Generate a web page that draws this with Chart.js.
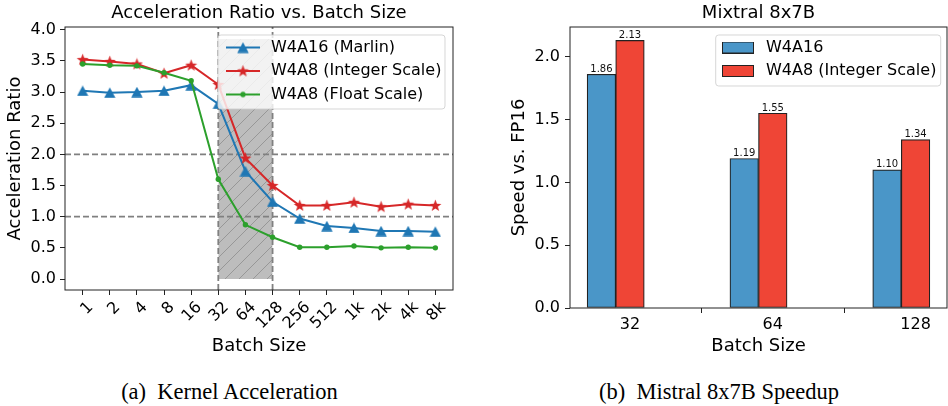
<!DOCTYPE html>
<html><head><meta charset="utf-8">
<script src="https://cdn.jsdelivr.net/npm/chart.js@4.4.1/dist/chart.umd.min.js"></script>
<style>
html,body{margin:0;padding:0;background:#fff;width:948px;height:406px;overflow:hidden;}
#pa{position:absolute;left:0;top:0;width:470px;height:362px;}
#pb{position:absolute;left:478px;top:0;width:470px;height:362px;}
.cap{position:absolute;top:381px;font-family:'Liberation Serif','Times New Roman',serif;font-size:22.5px;line-height:22px;color:#000;white-space:pre;text-align:center;}
</style></head><body>
<div id="pa"><canvas id="ca"></canvas></div>
<div id="pb"><canvas id="cb"></canvas></div>
<div class="cap" style="left:0;width:459px">(a)  Kernel Acceleration</div>
<div class="cap" style="left:478px;width:482px">(b)  Mistral 8x7B Speedup</div>
<script>
// ---------------- data ----------------
const batchLabels = ['1','2','4','8','16','32','64','128','256','512','1k','2k','4k','8k'];
const w4a16Marlin = [3.02,2.99,3.00,3.02,3.11,2.81,1.73,1.24,0.97,0.85,0.82,0.77,0.77,0.76];
const w4a8Integer = [3.52,3.49,3.45,3.30,3.43,3.12,1.94,1.50,1.18,1.18,1.23,1.16,1.20,1.18];
const w4a8Float   = [3.45,3.43,3.42,3.31,3.18,1.60,0.87,0.67,0.51,0.51,0.53,0.50,0.51,0.50];
const refLevels = [1.0, 2.0];
const shadeFrom = '32';
const shadeTo = '128';
const shadeTop = 3.85;
const leftYTicks = [0,0.5,1,1.5,2,2.5,3,3.5,4];

const mixBatches = ['32','64','128'];
const mixW4A16 = [1.86,1.19,1.10];
const mixW4A8  = [2.13,1.55,1.34];
const rightYTicks = [0,0.5,1,1.5,2];

// ---------------- styles ----------------
const FONT = "'DejaVu Sans', sans-serif";
Chart.defaults.font.family = FONT;
Chart.defaults.color = '#000';
const C_BLUE = '#1f77b4', C_RED = '#d62728', C_GREEN = '#2ca02c';
const C_BAR_BLUE = '#4a96c8', C_BAR_RED = '#ef4536';
const SPINE = '#222';

function mk(w, h) { const c = document.createElement('canvas'); c.width = w; c.height = h; return c; }
function triangleImg(color) {
  const c = mk(12, 11), g = c.getContext('2d');
  g.fillStyle = color; g.beginPath(); g.moveTo(6, 0.3); g.lineTo(11.7, 10.7); g.lineTo(0.3, 10.7); g.closePath(); g.fill();
  return c;
}
function starImg(color) {
  const c = mk(13, 13), g = c.getContext('2d');
  g.fillStyle = color; g.beginPath();
  for (let k = 0; k < 10; k++) {
    const r = k % 2 ? 2.6 : 6.3, a = -Math.PI / 2 + k * Math.PI / 5;
    const px = 6.5 + r * Math.cos(a), py = 6.9 + r * Math.sin(a);
    k ? g.lineTo(px, py) : g.moveTo(px, py);
  }
  g.closePath(); g.fill();
  return c;
}
function handleImg(color, marker) {
  const c = mk(34, 14), g = c.getContext('2d');
  g.strokeStyle = color; g.lineWidth = 2; g.beginPath(); g.moveTo(0, 7); g.lineTo(34, 7); g.stroke();
  if (marker === 'circle') { g.fillStyle = color; g.beginPath(); g.arc(17, 7, 2.7, 0, Math.PI * 2); g.fill(); }
  else g.drawImage(marker, 17 - marker.width / 2, 7 - marker.height / 2);
  return c;
}
function patchImg(color) {
  const c = mk(32, 12), g = c.getContext('2d');
  g.fillStyle = color; g.fillRect(0.5, 0.5, 31, 11);
  g.strokeStyle = SPINE; g.lineWidth = 1; g.strokeRect(0.5, 0.5, 31, 11);
  return c;
}
function hatchPattern() {
  const s = 14, c = mk(s, s), g = c.getContext('2d');
  g.fillStyle = '#bdbdbd'; g.fillRect(0, 0, s, s);
  g.strokeStyle = '#979797'; g.lineWidth = 1;
  g.beginPath(); g.moveTo(0, s); g.lineTo(s, 0); g.moveTo(-1, 1); g.lineTo(1, -1); g.moveTo(s - 1, s + 1); g.lineTo(s + 1, s - 1); g.stroke();
  return mk(1, 1).getContext('2d').createPattern(c, 'repeat');
}
const triBlue = triangleImg(C_BLUE), starRed = starImg(C_RED);

// ---------------- shared plugins ----------------
const axesFrame = {
  id: 'axesFrame',
  afterDatasetsDraw(chart) {
    const {left, top, right, bottom} = chart.chartArea, c = chart.ctx;
    c.save(); c.strokeStyle = SPINE; c.lineWidth = 1;
    c.strokeRect(left, top, right - left, bottom - top); c.restore();
  }
};
function legendBox(pos, frame) {
  return {
    id: 'legendBox',
    afterInit(chart) {
      const lg = chart.legend;
      lg._layers = () => [{ z: 5, draw(area) {
        const c = chart.ctx; c.save();
        c.beginPath(); c.roundRect(frame.x, frame.y, frame.w, frame.h, 3);
        c.fillStyle = 'rgba(255,255,255,0.8)'; c.fill();
        c.strokeStyle = 'rgba(204,204,204,0.8)'; c.lineWidth = 1; c.stroke();
        c.restore();
        lg.draw(area);
      }}];
    },
    afterLayout(chart) {
      const lg = chart.legend;
      lg.left = pos.x; lg.top = pos.y; lg.width = 240; lg.height = 110;
      lg.right = lg.left + lg.width; lg.bottom = lg.top + lg.height;
    }
  };
}
function axisCommon(extra) {
  return Object.assign({
    bounds: 'data',
    border: { display: false },
    grid: { drawOnChartArea: false, tickLength: 5, tickColor: SPINE, tickWidth: 1 },
  }, extra);
}

// ---------------- left chart ----------------
const xMinL = -0.65, xMaxL = 13.65, yMinL = -0.176, yMaxL = 4.043;
const i32 = batchLabels.indexOf(shadeFrom), i128 = batchLabels.indexOf(shadeTo);
const refStyle = { borderColor: '#808080', borderWidth: 1.8, borderDash: [6, 3], pointRadius: 0, fill: false, order: 3 };
const leftSeries = [
  { label: 'W4A16 (Marlin)', values: w4a16Marlin, color: C_BLUE, marker: triBlue, order: 2 },
  { label: 'W4A8 (Integer Scale)', values: w4a8Integer, color: C_RED, marker: starRed, order: 1 },
  { label: 'W4A8 (Float Scale)', values: w4a8Float, color: C_GREEN, marker: 'circle', order: 0 },
];
const leftDatasets = leftSeries.map(s => ({
  label: s.label,
  data: s.values.map((v, i) => ({ x: i, y: v })),
  borderColor: s.color, backgroundColor: s.color, borderWidth: 2,
  pointStyle: s.marker, pointRadius: s.marker === 'circle' ? 2.7 : 6, pointBorderWidth: 0,
  order: s.order, fill: false
}));
refLevels.forEach(l => leftDatasets.push(Object.assign({ label: '_ref', data: [{ x: xMinL, y: l }, { x: xMaxL, y: l }] }, refStyle)));
[i32, i128].forEach(ix => leftDatasets.push(Object.assign({ label: '_ref', data: [{ x: ix, y: yMinL }, { x: ix, y: yMaxL }] }, refStyle)));
leftDatasets.push({ label: '_shade', data: [{ x: i32, y: shadeTop }, { x: i128, y: shadeTop }],
  fill: { value: 0 }, backgroundColor: hatchPattern(), borderWidth: 0, pointRadius: 0, order: 4 });

new Chart(document.getElementById('ca'), {
  type: 'line',
  data: { datasets: leftDatasets },
  options: {
    responsive: true, maintainAspectRatio: false, animation: false,
    layout: { padding: { left: 0, right: 17, top: 0, bottom: 0 } },
    plugins: {
      tooltip: { enabled: false },
      title: { display: true, text: 'Acceleration Ratio vs. Batch Size', fullSize: false,
        font: { size: 18, weight: 'normal' }, color: '#000', padding: { top: 2.2, bottom: 3.2 } },
      legend: {
        position: 'chartArea', align: 'start',
        labels: {
          usePointStyle: true, pointStyleWidth: 40, padding: 7.5, color: '#000', font: { size: 16 },
          generateLabels: () => leftSeries.map((s, i) => ({
            text: s.label, pointStyle: handleImg(s.color, s.marker),
            fillStyle: s.color, strokeStyle: s.color, lineWidth: 0, hidden: false, datasetIndex: i
          }))
        }
      }
    },
    scales: {
      x: axisCommon({
        type: 'linear', min: xMinL, max: xMaxL,
        afterBuildTicks: s => { s.ticks = batchLabels.map((_, i) => ({ value: i })); },
        afterFit: s => { s.height = 72; },
        ticks: { autoSkip: false, minRotation: 45, maxRotation: 45, padding: 3, labelOffset: 8,
          font: { size: 16 }, color: '#000', callback: v => batchLabels[v] },
        title: { display: true, text: 'Batch Size', font: { size: 18 }, color: '#000', padding: { top: 0, bottom: 5.2 } }
      }),
      y: axisCommon({
        type: 'linear', min: yMinL, max: yMaxL,
        afterBuildTicks: s => { s.ticks = leftYTicks.map(v => ({ value: v })); },
        afterFit: s => { s.width = 65; },
        ticks: { padding: 4, font: { size: 16 }, color: '#000', callback: v => v.toFixed(1) },
        title: { display: true, text: 'Acceleration Ratio', font: { size: 18 }, color: '#000', padding: { top: 4.7, bottom: 0 } }
      })
    }
  },
  plugins: [axesFrame, legendBox({ x: 215.5, y: 32 }, { x: 218, y: 35, w: 227, h: 74 })]
});

// ---------------- right chart ----------------
const barShift = 0.2;
const xMinR = -0.42, xMaxR = 2.22, yMinR = 0, yMaxR = 2.2365;
const rightSeries = [
  { label: 'W4A16', values: mixW4A16, color: C_BAR_BLUE, shift: -barShift },
  { label: 'W4A8 (Integer Scale)', values: mixW4A8, color: C_BAR_RED, shift: 0 },
];
const barValueLabels = {
  id: 'barValueLabels',
  afterDatasetsDraw(chart) {
    const c = chart.ctx; c.save();
    c.font = "10px " + FONT; c.fillStyle = '#111'; c.textAlign = 'center'; c.textBaseline = 'alphabetic';
    chart.data.datasets.forEach((ds, di) => {
      chart.getDatasetMeta(di).data.forEach((el, i) => {
        c.fillText(ds.data[i].y.toFixed(2), el.x, el.y - 2.5);
      });
    });
    c.restore();
  }
};
new Chart(document.getElementById('cb'), {
  type: 'bar',
  data: {
    datasets: rightSeries.map(s => ({
      label: s.label,
      data: s.values.map((v, i) => ({ x: i + s.shift, y: v })),
      backgroundColor: s.color, borderColor: SPINE, borderWidth: 1.2, borderSkipped: false,
      grouped: false, categoryPercentage: 1, barPercentage: 1
    }))
  },
  options: {
    responsive: true, maintainAspectRatio: false, animation: false,
    layout: { padding: { left: 0, right: 1, top: 0, bottom: 0 } },
    plugins: {
      tooltip: { enabled: false },
      title: { display: true, text: 'Mixtral 8x7B', fullSize: false,
        font: { size: 18, weight: 'normal' }, color: '#000', padding: { top: 2.2, bottom: 3.2 } },
      legend: {
        position: 'chartArea', align: 'start',
        labels: {
          usePointStyle: true, pointStyleWidth: 40, padding: 7.5, color: '#000', font: { size: 16 },
          generateLabels: () => rightSeries.map((s, i) => ({
            text: s.label, pointStyle: patchImg(s.color),
            fillStyle: s.color, strokeStyle: SPINE, lineWidth: 0, hidden: false, datasetIndex: i
          }))
        }
      }
    },
    scales: {
      x: axisCommon({
        type: 'linear', min: xMinR, max: xMaxR, offset: false,
        afterBuildTicks: s => { s.ticks = mixBatches.map((_, i) => ({ value: i })); },
        afterFit: s => { s.height = 54; },
        ticks: { autoSkip: false, maxRotation: 0, padding: 2, font: { size: 16 }, color: '#000', callback: v => mixBatches[v] },
        title: { display: true, text: 'Batch Size', font: { size: 18 }, color: '#000', padding: { top: 0, bottom: 5.2 } }
      }),
      y: axisCommon({
        type: 'linear', min: yMinR, max: yMaxR,
        afterBuildTicks: s => { s.ticks = rightYTicks.map(v => ({ value: v })); },
        afterFit: s => { s.width = 92; },
        ticks: { padding: 5, font: { size: 16 }, color: '#000', callback: v => v.toFixed(1) },
        title: { display: true, text: 'Speed vs. FP16', font: { size: 18 }, color: '#000', padding: { top: 31, bottom: 0 } }
      })
    }
  },
  plugins: [axesFrame, barValueLabels, legendBox({ x: 232.5, y: 32 }, { x: 237.7, y: 35, w: 225, h: 51 })]
});
</script>
</body></html>
